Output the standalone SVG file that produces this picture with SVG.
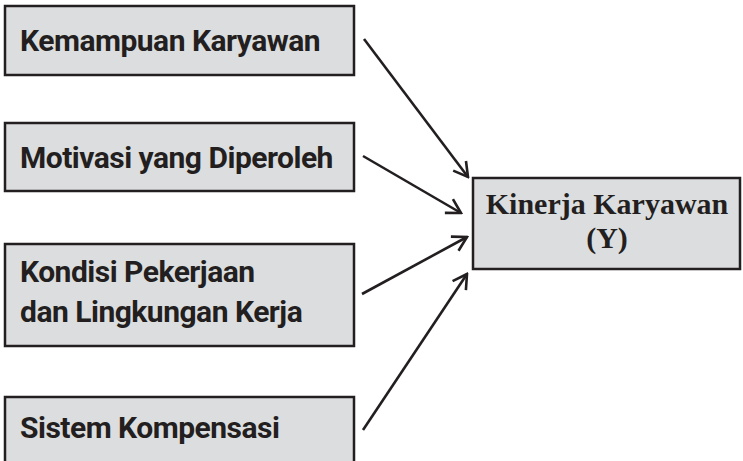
<svg xmlns="http://www.w3.org/2000/svg" width="743" height="461" viewBox="0 0 743 461">
<style>
.box{fill:#dcdddf;stroke:#231f20;stroke-width:2.5}
.lbl{font-family:Roboto,"Liberation Sans",sans-serif;font-weight:bold;font-size:30px;letter-spacing:-0.5px;fill:#231f20}
.tgt{font-family:"Liberation Serif","DejaVu Serif",serif;font-weight:bold;font-size:30px;fill:#231f20}
.con{stroke:#231f20;stroke-width:2.6;fill:none}
</style>
<defs>
<marker id="ah" viewBox="0 0 20 20" refX="18" refY="10" markerWidth="20" markerHeight="20" markerUnits="userSpaceOnUse" orient="auto">
<path d="M4,2 L18,10 L4,18" fill="none" stroke="#231f20" stroke-width="2.6"/>
</marker>
</defs>
<g id="n1"><rect class="box" x="5" y="6" width="349" height="69"/><text class="lbl" x="20" y="51">Kemampuan Karyawan</text></g>
<g id="n2"><rect class="box" x="5" y="123" width="349" height="68"/><text class="lbl" x="20" y="168">Motivasi yang Diperoleh</text></g>
<g id="n3"><rect class="box" x="5" y="244" width="349" height="102"/><text class="lbl" x="20" y="282">Kondisi Pekerjaan</text><text class="lbl" x="20" y="322">dan Lingkungan Kerja</text></g>
<g id="n4"><rect class="box" x="5" y="397" width="349" height="80"/><text class="lbl" x="20" y="438">Sistem Kompensasi</text></g>
<g id="y"><rect class="box" x="473" y="178" width="267" height="91"/><text class="tgt" x="607" y="214" text-anchor="middle">Kinerja Karyawan</text><text class="tgt" x="607" y="248" text-anchor="middle">(Y)</text></g>
<g id="connectors">
<line class="con" x1="364" y1="39" x2="468" y2="177" marker-end="url(#ah)"/>
<line class="con" x1="363" y1="156" x2="461" y2="213" marker-end="url(#ah)"/>
<line class="con" x1="362" y1="294" x2="467" y2="237" marker-end="url(#ah)"/>
<line class="con" x1="363" y1="430" x2="467" y2="274" marker-end="url(#ah)"/>
</g>
</svg>
